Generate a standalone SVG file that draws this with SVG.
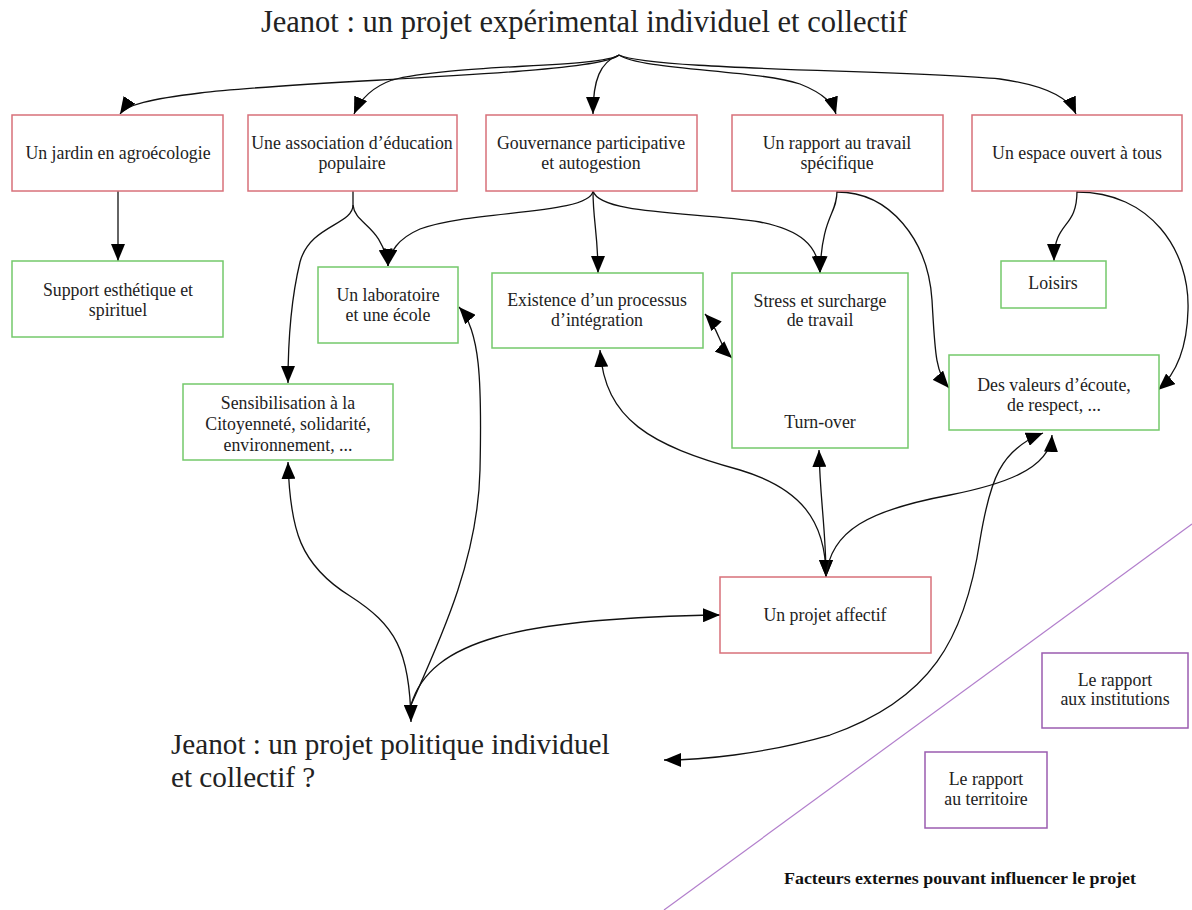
<svg xmlns="http://www.w3.org/2000/svg" width="1192" height="910" viewBox="0 0 1192 910">
<defs>
<style>
.t{font-family:"Liberation Serif","Times New Roman",serif;font-size:17.8px;fill:#222;text-anchor:middle}
.red{fill:#fff;stroke:#d8707a;stroke-width:1.5}
.grn{fill:#fff;stroke:#74c96b;stroke-width:1.5}
.pur{fill:#fff;stroke:#9b5cb0;stroke-width:1.5}
.c{fill:none;stroke:#111;stroke-width:1.3}
.big{font-family:"Liberation Serif","Times New Roman",serif;fill:#222}
</style>
<marker id="a" markerUnits="userSpaceOnUse" markerWidth="17" markerHeight="14" refX="17" refY="7" orient="auto-start-reverse"><path d="M0,0 L17,7 L0,14 z" fill="#000"/></marker>
</defs>
<rect width="1192" height="910" fill="#fff"/>
<text class="big" x="584" y="32" font-size="30.5" text-anchor="middle">Jeanot : un projet expérimental individuel et collectif</text>
<line x1="1192" y1="524" x2="664" y2="910" stroke="#b27fcc" stroke-width="1.2"/>
<g id="connectors">
<path class="c" d="M619,55 C600,75 300,80 200,93 C150,99 126,105 120,114" marker-end="url(#a)"/>
<path class="c" d="M619,55 C600,68 450,64 392,80 C370,88 360,100 354,114" marker-end="url(#a)"/>
<path class="c" d="M619,55 C600,62 593,80 593,114" marker-end="url(#a)"/>
<path class="c" d="M619,55 C640,70 760,70 800,84 C825,94 833,104 836,114" marker-end="url(#a)"/>
<path class="c" d="M619,55 C650,70 900,70 1000,79 C1050,86 1070,100 1076,114" marker-end="url(#a)"/>
<path class="c" d="M118,191 L118,261" marker-end="url(#a)"/>
<path class="c" d="M353,191 L353,205 C353,225 310,225 300,262 C292,295 288,340 288,383" marker-end="url(#a)"/>
<path class="c" d="M353,205 C355,225 382,225 388,266" marker-end="url(#a)"/>
<path class="c" d="M593,191 C590,215 470,210 420,229 C397,239 390,252 388,266" marker-end="url(#a)"/>
<path class="c" d="M593,191 C593,220 598,235 598,273" marker-end="url(#a)"/>
<path class="c" d="M593,191 C600,215 700,212 760,222 C800,230 818,245 820,273" marker-end="url(#a)"/>
<path class="c" d="M837,191 C837,215 822,215 820,273" marker-end="url(#a)"/>
<path class="c" d="M837,192 C890,192 928,240 932,300 C935,350 935,372 949,388" marker-end="url(#a)"/>
<path class="c" d="M1077,191 C1077,230 1054,220 1054,261" marker-end="url(#a)"/>
<path class="c" d="M1077,192 C1150,192 1190,250 1188,310 C1187,350 1175,375 1158,390" marker-end="url(#a)"/>
<path class="c" d="M705,314 C720,330 718,345 732,358" marker-start="url(#a)" marker-end="url(#a)"/>
<path class="c" d="M600,350 C605,420 650,445 740,470 C800,488 826,520 826,577" marker-start="url(#a)" marker-end="url(#a)"/>
<path class="c" d="M819,450 C820,500 826,530 826,577" marker-start="url(#a)" marker-end="url(#a)"/>
<path class="c" d="M1052,435 C1050,470 1000,485 950,495 C870,510 830,530 826,577" marker-start="url(#a)"/>
<path class="c" d="M1043,433 C1000,450 990,480 980,540 C965,640 930,700 830,735 C760,755 700,760 664,760" marker-start="url(#a)" marker-end="url(#a)"/>
<path class="c" d="M288,462 C290,530 300,565 350,596 C395,625 410,650 411,722" marker-start="url(#a)" marker-end="url(#a)"/>
<path class="c" d="M411,705 C440,640 478,560 480,470 C482,380 480,330 459,307" marker-end="url(#a)"/>
<path class="c" d="M411,705 C430,640 520,618 720,615" marker-end="url(#a)"/>
</g>
<g id="n1"><rect class="red" x="12" y="115" width="211" height="76"/><text class="t" x="118" y="159">Un jardin en agroécologie</text></g>
<g id="n2"><rect class="red" x="248" y="115" width="209" height="76"/><text class="t" x="352" y="149">Une association d’éducation</text><text class="t" x="352" y="169">populaire</text></g>
<g id="n3"><rect class="red" x="486" y="115" width="211" height="76"/><text class="t" x="591" y="149">Gouvernance participative</text><text class="t" x="591" y="169">et autogestion</text></g>
<g id="n4"><rect class="red" x="732" y="115" width="211" height="76"/><text class="t" x="837" y="149">Un rapport au travail</text><text class="t" x="837" y="169">spécifique</text></g>
<g id="n5"><rect class="red" x="972" y="115" width="210" height="76"/><text class="t" x="1077" y="159">Un espace ouvert à tous</text></g>
<g id="n6"><rect class="grn" x="12" y="261" width="211" height="76"/><text class="t" x="118" y="296">Support esthétique et</text><text class="t" x="118" y="316">spirituel</text></g>
<g id="n7"><rect class="grn" x="318" y="267" width="140" height="76"/><text class="t" x="388" y="301">Un laboratoire</text><text class="t" x="388" y="321">et une école</text></g>
<g id="n8"><rect class="grn" x="183" y="384" width="210" height="76"/><text class="t" x="288" y="409">Sensibilisation à la</text><text class="t" x="288" y="430">Citoyenneté, solidarité,</text><text class="t" x="288" y="451">environnement, ...</text></g>
<g id="n9"><rect class="grn" x="492" y="273" width="211" height="75"/><text class="t" x="597" y="306">Existence d’un processus</text><text class="t" x="597" y="326">d’intégration</text></g>
<g id="n10"><rect class="grn" x="732" y="273" width="176" height="175"/><text class="t" x="820" y="307">Stress et surcharge</text><text class="t" x="820" y="326">de travail</text><text class="t" x="820" y="428">Turn-over</text></g>
<g id="n11"><rect class="grn" x="1001" y="261" width="105" height="47"/><text class="t" x="1053" y="289">Loisirs</text></g>
<g id="n12"><rect class="grn" x="949" y="355" width="210" height="75"/><text class="t" x="1054" y="391">Des valeurs d’écoute,</text><text class="t" x="1054" y="411">de respect, ...</text></g>
<g id="n13"><rect class="red" x="720" y="577" width="211" height="76"/><text class="t" x="825" y="621">Un projet affectif</text></g>
<g id="n14"><text class="big" x="171" y="754" font-size="29.2">Jeanot : un projet politique individuel</text><text class="big" x="171" y="787" font-size="29.2">et collectif ?</text></g>
<g id="n15"><rect class="pur" x="1042" y="653" width="146" height="75"/><text class="t" x="1115" y="686">Le rapport</text><text class="t" x="1115" y="705">aux institutions</text></g>
<g id="n16"><rect class="pur" x="925" y="752" width="122" height="76"/><text class="t" x="986" y="785">Le rapport</text><text class="t" x="986" y="805">au territoire</text></g>
<text x="960" y="884" font-family="Liberation Serif, Times New Roman, serif" font-size="16" font-weight="bold" fill="#111" text-anchor="middle" textLength="352" lengthAdjust="spacingAndGlyphs">Facteurs externes pouvant influencer le projet</text>
</svg>
